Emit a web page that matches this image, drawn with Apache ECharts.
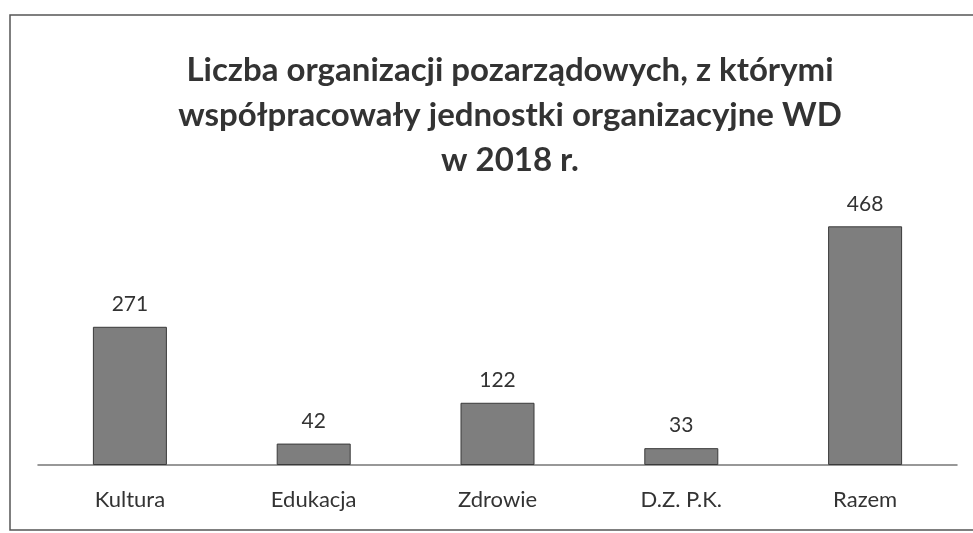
<!DOCTYPE html>
<html><head><meta charset="utf-8">
<script src="https://cdn.jsdelivr.net/npm/echarts@6/dist/echarts.min.js"></script>
<style>html,body{margin:0;padding:0;background:#fff}#c{width:973px;height:533px}</style>
</head><body><div id="c"></div>
<script>
const titleText = 'Liczba organizacji pozarządowych, z którymi\nwspółpracowały jednostki organizacyjne WD\nw 2018 r.';
const categories = ['Kultura', 'Edukacja', 'Zdrowie', 'D.Z. P.K.', 'Razem'];
const values = [271, 42, 122, 33, 468];

const chart = echarts.init(document.getElementById('c'));
chart.setOption({
  backgroundColor: '#ffffff',
  animation: false,
  graphic: [{
    type: 'rect', shape: { x: 10, y: 15, width: 990, height: 515 },
    style: { fill: 'none', stroke: '#555', lineWidth: 1.5 }, silent: true
  }],
  title: {
    text: titleText, left: 505, top: 43, textAlign: 'center',
    textStyle: { fontFamily: 'Lato', fontWeight: 'bold', fontSize: 33, lineHeight: 45, color: '#333333' }
  },
  grid: { left: 38, right: 16, bottom: 68, top: 210, containLabel: false },
  xAxis: {
    type: 'category', data: categories,
    axisLine: { lineStyle: { color: '#777', width: 1.5 } },
    axisTick: { show: false },
    axisLabel: { margin: 24, fontFamily: 'Lato', fontSize: 22, color: '#333333' }
  },
  yAxis: { type: 'value', min: 0, max: 500, show: false, splitLine: { show: false } },
  series: [{
    type: 'bar', data: values, barWidth: 74,
    itemStyle: { color: '#7e7e7e', borderColor: '#3a3a3a', borderWidth: 1 },
    label: { show: true, position: 'top', distance: 12, fontFamily: 'Lato', fontSize: 21, color: '#333333' }
  }]
});
</script></body></html>
